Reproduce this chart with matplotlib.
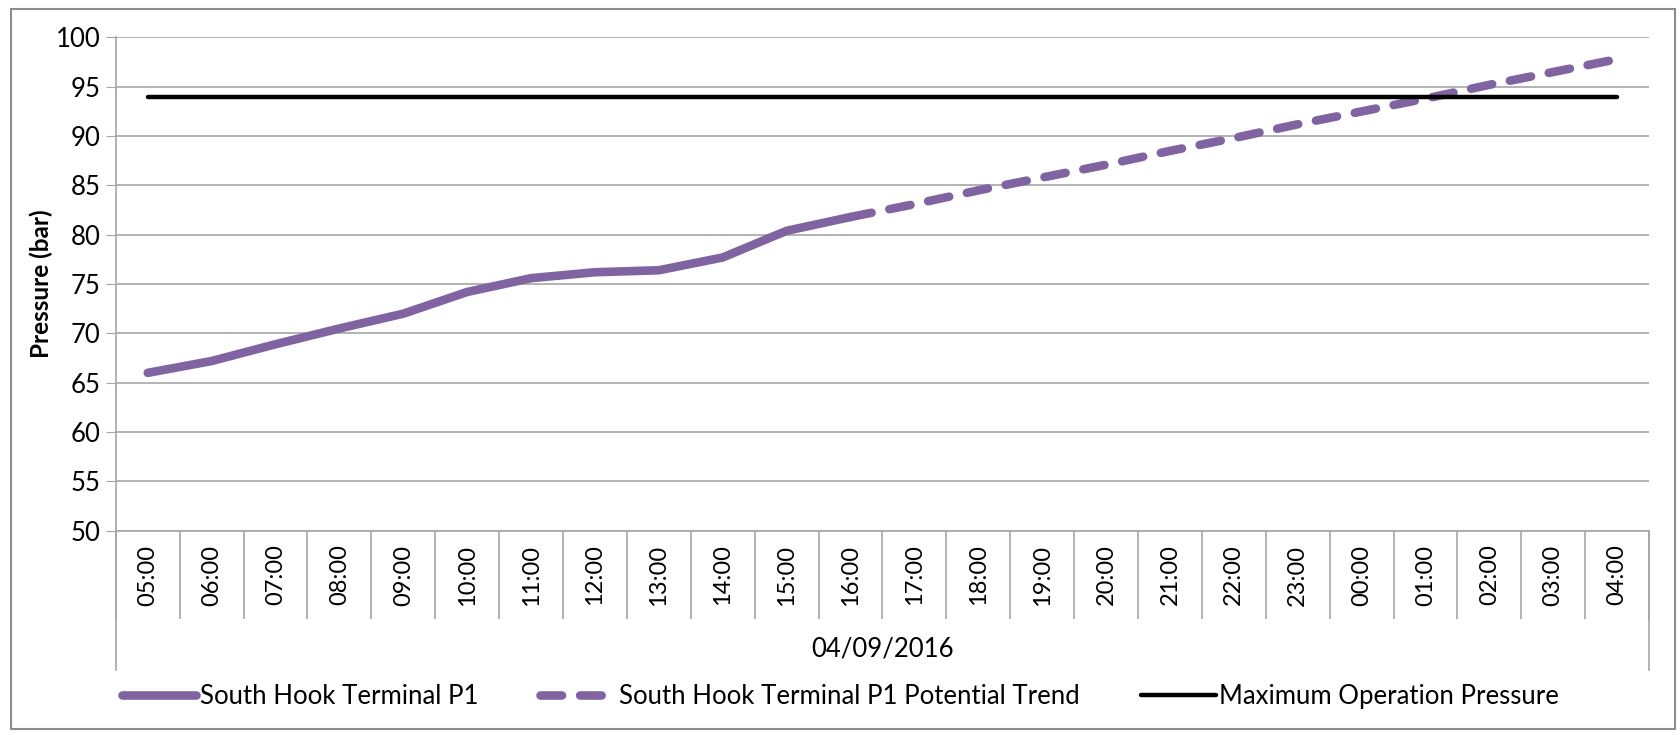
import numpy as np
import matplotlib.pyplot as plt
from matplotlib.patches import Rectangle

plt.rcParams['font.family'] = ['Lato', 'DejaVu Sans']

hours = ["05:00", "06:00", "07:00", "08:00", "09:00", "10:00", "11:00", "12:00",
         "13:00", "14:00", "15:00", "16:00", "17:00", "18:00", "19:00", "20:00",
         "21:00", "22:00", "23:00", "00:00", "01:00", "02:00", "03:00", "04:00"]
# measured pressure 05:00 - 16:00
measured = [66.0, 67.2, 68.9, 70.5, 72.0, 74.2, 75.6, 76.2, 76.4, 77.7, 80.4, 81.8]
# potential trend 16:00 - 04:00
trend = [81.8, 83.1, 84.5, 85.8, 87.1, 88.5, 89.8, 91.2, 92.5, 93.8, 95.2, 96.5, 97.8]
max_pressure = [94.0] * len(hours)
date_label = "04/09/2016"

purple = "#8064A2"
grid_c = "#A6A6A6"

x = np.arange(len(hours))
meas = np.full(len(hours), np.nan)
meas[:len(measured)] = measured
tr = np.full(len(hours), np.nan)
tr[len(hours) - len(trend):] = trend

fig = plt.figure(figsize=(16.81, 7.35), dpi=100)
ax = fig.add_axes([0.0689, 0.278, 0.981 - 0.0689, 0.949 - 0.278])

ax.plot(x, meas, color=purple, lw=6.2, solid_capstyle="round",
        label="South Hook Terminal P1")
ax.plot(x, tr, color=purple, lw=6.2, dashes=(2.5, 2.1), dash_capstyle="round",
        label="South Hook Terminal P1 Potential Trend")
ax.plot(x, max_pressure, color="black", lw=3.2, solid_capstyle="round",
        label="Maximum Operation Pressure")

ax.set_xlim(-0.5, len(hours) - 0.5)
ax.set_ylim(50, 100)
ax.set_yticks(np.arange(50, 101, 5))
ax.yaxis.grid(True, color=grid_c, lw=1.2)
ax.set_axisbelow(True)
for s in ["top", "right"]:
    ax.spines[s].set_visible(False)
ax.spines["left"].set_color(grid_c)
ax.spines["bottom"].set_color(grid_c)
ax.spines["left"].set_linewidth(1.2)
ax.spines["bottom"].set_linewidth(1.2)
ax.tick_params(axis="y", length=7, color=grid_c, labelsize=18.5, pad=4)

ax.set_xticks(x)
ax.set_xticklabels(hours, rotation=90, fontsize=17)
ax.set_xticks(np.arange(len(hours) + 1) - 0.5, minor=True)
ax.tick_params(axis="x", which="major", length=0, pad=10)
ax.tick_params(axis="x", which="minor", length=63, color=grid_c, width=1.2)

# outer lines of the two-level category axis
tr_x = ax.get_xaxis_transform()
for xe in (-0.5, len(hours) - 0.5):
    ax.plot([xe, xe], [0, -0.283], transform=tr_x, color=grid_c, lw=1.2, clip_on=False)
ax.text(0.5, -0.239, date_label, transform=ax.transAxes, ha="center", va="center", fontsize=18.5)

ax.set_ylabel("Pressure (bar)", fontsize=17.5, fontweight="bold", labelpad=2)

fig.legend(loc="center", bbox_to_anchor=(0.5, 0.052), ncol=3, frameon=False,
           fontsize=18.5, handlelength=2.9, columnspacing=2.4, handletextpad=0.15)

fig.patches.append(Rectangle((0.0064, 0.0087), 0.9898, 0.979, transform=fig.transFigure,
                             fill=False, edgecolor="#8C8C8C", lw=1.5))

fig.savefig("out.png", dpi=100)
